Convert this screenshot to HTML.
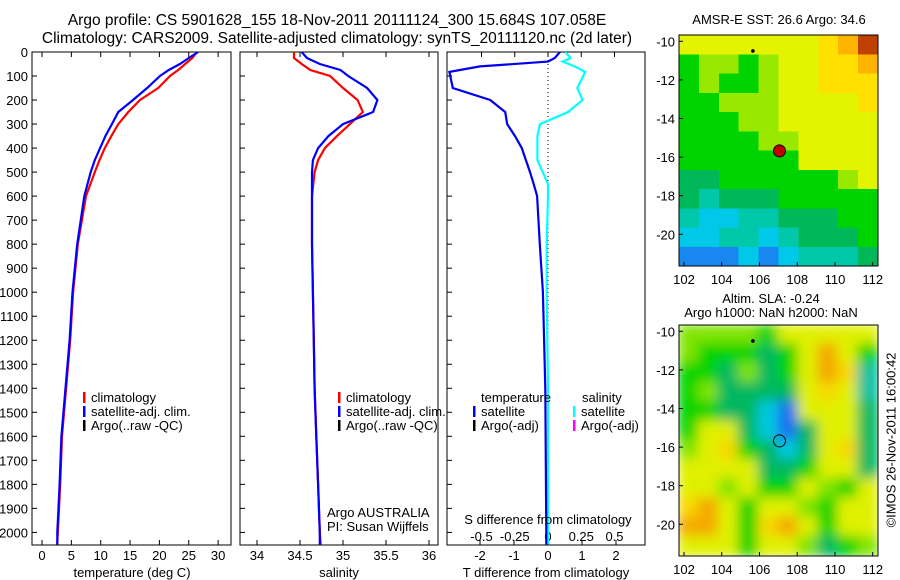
<!DOCTYPE html>
<html><head><meta charset="utf-8"><style>
html,body{margin:0;padding:0;background:#fff;}
svg{display:block;font-family:"Liberation Sans",sans-serif;}
text{fill:#000;}
</style></head><body>
<svg id="fig" width="900" height="580" viewBox="0 0 900 580">
<defs>
<clipPath id="c1"><rect x="32" y="52" width="199" height="493"/></clipPath>
<clipPath id="c2"><rect x="240" y="52" width="198" height="493"/></clipPath>
<clipPath id="c3"><rect x="447" y="52" width="198" height="493"/></clipPath>
<clipPath id="cm2"><rect x="679" y="325" width="199" height="231"/></clipPath>
<filter id="bl" x="-5%" y="-5%" width="110%" height="110%"><feGaussianBlur stdDeviation="6"/></filter>
</defs>
<text x="337" y="25" font-size="15.5" text-anchor="middle">Argo profile: CS 5901628_155 18-Nov-2011 20111124_300 15.684S 107.058E</text>
<text x="337" y="43" font-size="15.5" text-anchor="middle">Climatology: CARS2009. Satellite-adjusted climatology: synTS_20111120.nc (2d later)</text>
<g id="g1"></g>
<g id="g2"></g>
<g id="g3"></g>
<g id="m1"></g>
<g id="m2"></g>
<text x="892" y="440" font-size="13" text-anchor="middle" transform="rotate(-90 892 440)" dominant-baseline="middle">©IMOS 26-Nov-2011 16:00:42</text>
</svg>
<script>
const depths = [0,25,50,75,100,150,200,250,300,350,400,450,500,600,800,1000,1200,1400,1600,1800,2000,2050];
const tempClim = [26.4,25.6,24.4,23.2,21.8,19.8,16.7,14.7,13.0,11.8,10.7,9.8,9.0,7.5,6.1,5.3,4.8,4.1,3.4,3.1,2.7,2.6];
const tempSat  = [26.6,25.0,23.5,21.6,20.1,17.9,15.5,13.0,11.9,10.8,9.9,9.0,8.3,7.2,6.0,5.2,4.7,4.0,3.3,3.0,2.6,2.6];
const salClim = [34.43,34.43,34.52,34.62,34.85,35.0,35.17,35.23,35.08,34.93,34.79,34.71,34.67,34.64,34.64,34.65,34.66,34.67,34.69,34.71,34.73,34.74];
const salSat  = [34.52,34.58,34.73,34.97,35.06,35.28,35.4,35.35,35.0,34.83,34.71,34.65,34.64,34.64,34.64,34.65,34.66,34.67,34.69,34.71,34.73,34.73];
const dDepths = [0,25,40,60,83,150,200,250,300,350,400,450,500,550,600,800,1000,1400,2000,2050];
const tDiff = [0.35,0.2,0.0,-2.0,-2.9,-2.8,-1.7,-1.26,-1.2,-0.97,-0.77,-0.65,-0.53,-0.42,-0.32,-0.24,-0.15,-0.08,-0.05,-0.05];
const sDiff = [0.13,0.17,0.11,0.2,0.28,0.22,0.26,0.15,-0.06,-0.08,-0.08,-0.08,-0.04,0.0,0.0,-0.01,-0.01,0.0,0.0,0.0];
const depthTicks = [0,100,200,300,400,500,600,700,800,900,1000,1100,1200,1300,1400,1500,1600,1700,1800,1900,2000];
const tTicks = [0,5,10,15,20,25,30];
const sTicks = [34,34.5,35,35.5,36];
const sTickLabels = ["34","34.5","35","35.5","36"];
const dtTicks = [-2,-1,0,1,2];
const dsTicks = [-0.5,-0.25,0,0.25,0.5];
const dsTickLabels = ["-0.5","-0.25","0","0.25","0.5"];
const lonTicks = [102,104,106,108,110,112];
const latTicks = [-10,-12,-14,-16,-18,-20];
const sstGrid = ["YYYYYYYoOR","GllGlYYooO","GlGGlYYooo","GGlllYYYYo","GGGllYYYYY","GGGGllYYYY","GGGGGGYYYY","DDGGGGGGlY","DTDDDGGGGG","TCCTTDDDGG","CCTTCTDDDG","BBBCBCTTTD"];
const slaGrid = ["llllGYYYYY","lGGGDGYOYG","GGDlDGYOoT","GlDDDDYoYT","GGDDCBYYYD","GYYDCBDYYD","lYoGDCDYoD","YYYYDDGYYD","YYlYGGYlGY","oOYGYYlGYY","OOYGoOYGYY","YYYGYYlDGl"];
const NS="http://www.w3.org/2000/svg";
const svg=document.getElementById('fig');
function mk(parent,tag,attrs,txt){const e=document.createElementNS(NS,tag);for(const k in attrs)e.setAttribute(k,attrs[k]);if(txt!==undefined)e.textContent=txt;parent.appendChild(e);return e;}
const yD = d => 52 + d*0.2402;
const xT = t => 42 + t*5.87;
const xS = s => 257 + (s-34)*86;
const xDT = v => 548 + v*34;
const xDS = v => 548 + v*133;
function line(g,xs,ys,fx,color,name,clip){
  const pts=xs.map((v,i)=>fx(v).toFixed(1)+','+yD(ys[i]).toFixed(1)).join(' ');
  const p=mk(g,'polyline',{points:pts,fill:'none',stroke:color,'stroke-width':2.2,'clip-path':'url(#'+clip+')'});
  
  
}
function panel(g,x0,w,showY){
  const r=mk(g,'rect',{x:x0,y:52,width:w,height:493,fill:'none',stroke:'#000','stroke-width':1});
  
  
  depthTicks.forEach(d=>{
    mk(g,'line',{x1:x0,x2:x0+5,y1:yD(d),y2:yD(d),stroke:'#000'});
    if(showY){const t=mk(g,'text',{x:28,y:yD(d)+5,'font-size':13,'text-anchor':'end'},String(d));
      
      }
  });
}
function xticks(g,vals,labels,fx,y){
  vals.forEach((v,i)=>{
    mk(g,'line',{x1:fx(v),x2:fx(v),y1:545,y2:540,stroke:'#000'});
    mk(g,'line',{x1:fx(v),x2:fx(v),y1:52,y2:57,stroke:'#000'});
    const t=mk(g,'text',{x:fx(v),y:y,'font-size':13,'text-anchor':'middle'},labels[i]);
    
    
  });
}
function legend(g,x,y,color,label){
  mk(g,'rect',{x:x,y:y-10,width:2.5,height:11,fill:color});
  const t=mk(g,'text',{x:x+8,y:y,'font-size':13},label);
  
  
}
const g1=document.getElementById('g1');
panel(g1,32,199,true);
xticks(g1,tTicks,tTicks.map(String),xT,560);
line(g1,tempClim,depths,xT,'#f00','temp-climatology-line','c1');
line(g1,tempSat,depths,xT,'#00f','temp-satellite-line','c1');
legend(g1,83,402,'#f00','climatology');legend(g1,83,416,'#00f','satellite-adj. clim.');legend(g1,83,430,'#000','Argo(..raw -QC)');
mk(g1,'text',{x:132,y:577,'font-size':13,'text-anchor':'middle'},'temperature (deg C)');
const g2=document.getElementById('g2');
panel(g2,240,198,false);
xticks(g2,sTicks,sTickLabels,xS,560);
line(g2,salClim,depths,xS,'#f00','sal-climatology-line','c2');
line(g2,salSat,depths,xS,'#00f','sal-satellite-line','c2');
legend(g2,338,402,'#f00','climatology');legend(g2,338,416,'#00f','satellite-adj. clim.');legend(g2,338,430,'#000','Argo(..raw -QC)');
mk(g2,'text',{x:327,y:517,'font-size':13},'Argo AUSTRALIA');
mk(g2,'text',{x:327,y:531,'font-size':13},'PI: Susan Wijffels');
mk(g2,'text',{x:339,y:577,'font-size':13,'text-anchor':'middle'},'salinity');
const g3=document.getElementById('g3');
panel(g3,447,198,false);
dtTicks.forEach(v=>{mk(g3,'line',{x1:xDT(v),x2:xDT(v),y1:545,y2:540,stroke:'#000'});
  const t=mk(g3,'text',{x:xDT(v),y:560,'font-size':13,'text-anchor':'middle'},String(v));
  
  });
dsTicks.forEach((v,i)=>{mk(g3,'line',{x1:xDS(v),x2:xDS(v),y1:52,y2:57,stroke:'#000'});
  const t=mk(g3,'text',{x:xDS(v),y:541,'font-size':13,'text-anchor':'middle'},dsTickLabels[i]);
  
  });
mk(g3,'line',{x1:548,x2:548,y1:52,y2:545,stroke:'#000','stroke-dasharray':'1,3'});
line(g3,sDiff,dDepths,xDS,'#0ff','sal-diff-line','c3');
line(g3,tDiff,dDepths,xDT,'#00e','temp-diff-line','c3');
mk(g3,'text',{x:481,y:402,'font-size':13},'temperature');
mk(g3,'text',{x:582,y:402,'font-size':13},'salinity');
legend(g3,473,416,'#00f','satellite');legend(g3,473,430,'#000','Argo(-adj)');
legend(g3,573,416,'#0ff','satellite');legend(g3,573,430,'#f0f','Argo(-adj)');
mk(g3,'text',{x:548,y:524,'font-size':13,'text-anchor':'middle'},'S difference from climatology');
mk(g3,'text',{x:546,y:577,'font-size':13,'text-anchor':'middle'},'T difference from climatology');
const pal={Y:'#e4f400',l:'#98e800',G:'#00d400',D:'#00b858',T:'#00c8a8',C:'#00c8e8',B:'#1888f0',o:'#ffe000',O:'#ffb400',R:'#c04000'};
const palS={Y:'#e0f000',l:'#80e400',G:'#00d400',D:'#00b860',T:'#00c0a0',C:'#00c8e0',B:'#1870f0',o:'#f8d800',O:'#f4a800'};
function mapPanel(gid,top,grid,colors,blur,clip){
  const g=document.getElementById(gid);
  const x0=679,w=199,h=231;
  const xL=lon=>684+(lon-102)*18.87, yL=lat=>top+6.3+(-10-lat)*19.3;
  const cells=mk(g,'g',blur?{filter:'url(#bl)','clip-path':'url(#'+clip+')'}:{'shape-rendering':'crispEdges'});
  const nr=grid.length,nc=grid[0].length;
  const cw=w/nc,ch=h/nr;
  grid.forEach((row,r)=>{[...row].forEach((c,k)=>{
    const e=mk(cells,'rect',{x:x0+k*cw-(blur?1:0),y:top+r*ch-(blur?1:0),width:cw+(blur?2:0.5),height:ch+(blur?2:0.5),fill:colors[c]});
    
    
  });});
  mk(g,'rect',{x:x0,y:top,width:w,height:h,fill:'none',stroke:'#000'});
  lonTicks.forEach(l=>{mk(g,'line',{x1:xL(l),x2:xL(l),y1:top+h,y2:top+h-4,stroke:'#000'});
    const t=mk(g,'text',{x:xL(l),y:top+h+18,'font-size':13,'text-anchor':'middle'},String(l));
    
    });
  latTicks.forEach(l=>{mk(g,'line',{x1:x0,x2:x0+4,y1:yL(l),y2:yL(l),stroke:'#000'});
    const t=mk(g,'text',{x:675,y:yL(l)+5,'font-size':13,'text-anchor':'end'},String(l));
    
    });
  mk(g,'circle',{cx:xL(105.65),cy:yL(-10.5),r:1.8,fill:'#000'});
  return {g,xL,yL,top};
}
const a=mapPanel('m1',35,sstGrid,pal,false,null);
mk(a.g,'text',{x:779,y:24,'font-size':13,'text-anchor':'middle'},'AMSR-E SST: 26.6 Argo: 34.6');
mk(a.g,'circle',{cx:a.xL(107.06),cy:a.yL(-15.68),r:6,fill:'#c00000',stroke:'#000','stroke-width':1});
const b=mapPanel('m2',325,slaGrid,palS,true,'cm2');
mk(b.g,'text',{x:771,y:303,'font-size':13,'text-anchor':'middle'},'Altim. SLA: -0.24');
mk(b.g,'text',{x:771,y:317,'font-size':13,'text-anchor':'middle'},'Argo h1000: NaN h2000: NaN');
mk(b.g,'circle',{cx:b.xL(107.06),cy:b.yL(-15.68),r:6,fill:'none',stroke:'#000','stroke-width':1});
</script>
</body></html>
